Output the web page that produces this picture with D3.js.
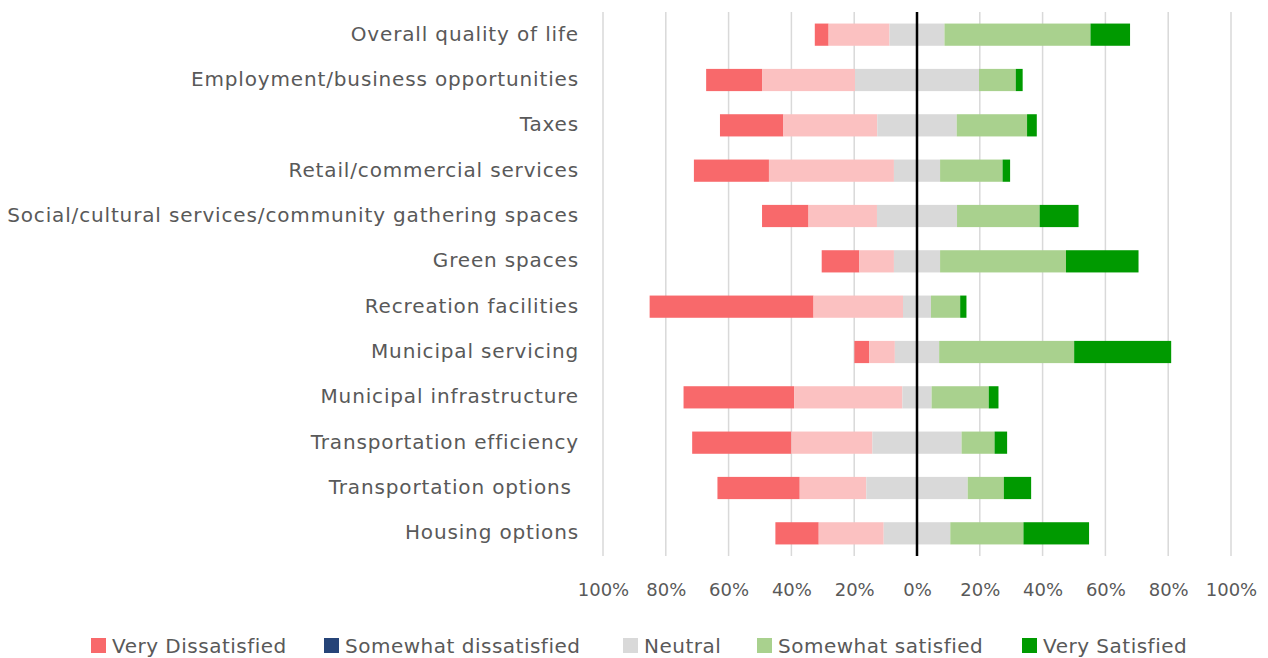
<!DOCTYPE html>
<html>
<head>
<meta charset="utf-8">
<script src="https://cdn.jsdelivr.net/npm/d3@7"></script>
<style>
  body { margin: 0; background: #fff; }
  text { font-family: "DejaVu Sans", sans-serif; fill: #595959; }
</style>
</head>
<body>
<div id="chart-area"></div>
<script>
// Survey categories (top to bottom)
const categories = [
  "Overall quality of life",
  "Employment/business opportunities",
  "Taxes",
  "Retail/commercial services",
  "Social/cultural services/community gathering spaces",
  "Green spaces",
  "Recreation facilities",
  "Municipal servicing",
  "Municipal infrastructure",
  "Transportation efficiency",
  "Transportation options ",
  "Housing options"
];

// Percent of responses per category
const veryDissatisfied     = [4.4, 17.8, 20.2, 23.9, 14.8, 12.0, 52.2, 4.7, 35.2, 31.6, 26.2, 13.8];
const somewhatDissatisfied = [19.4, 29.6, 29.9, 39.8, 21.8, 11.0, 28.5, 8.2, 34.5, 25.8, 21.2, 20.7];
const neutral              = [17.5, 39.5, 25.3, 14.7, 25.5, 14.7, 8.9, 14.1, 9.3, 28.4, 32.3, 21.2];
const somewhatSatisfied    = [46.5, 11.7, 22.4, 19.9, 26.3, 40.1, 9.3, 43.0, 18.2, 10.5, 11.5, 23.3];
const verySatisfied        = [12.6, 2.2, 3.1, 2.4, 12.4, 23.1, 2.0, 30.9, 3.1, 4.0, 8.7, 20.9];

const tickValues = [-100, -80, -60, -40, -20, 0, 20, 40, 60, 80, 100];

const seriesNames = ["Very Dissatisfied", "Somewhat dissatisfied", "Neutral", "Somewhat satisfied", "Very Satisfied"];
const barColors = ["#F8696B", "#FBC1C1", "#D9D9D9", "#A9D18E", "#009A00"];
const legendColors = ["#F8696B", "#264478", "#D9D9D9", "#A9D18E", "#009A00"];

const width = 1268, height = 658;
const svg = d3.select("#chart-area").append("svg")
    .attr("width", width)
    .attr("height", height);

const plot = {left: 603, right: 1231, top: 12, bottom: 556};

const x = d3.scaleLinear().domain([-100, 100]).range([plot.left, plot.right]);
const y = d3.scaleBand().domain(categories).range([plot.top, plot.bottom]).paddingInner(0.51).paddingOuter(0.255);

// Gridlines
svg.append("g").selectAll("line")
  .data(tickValues.filter(d => d !== 0))
  .enter().append("line")
    .attr("x1", d => x(d)).attr("x2", d => x(d))
    .attr("y1", plot.top).attr("y2", plot.bottom)
    .attr("stroke", "#D9D9D9")
    .attr("stroke-width", 1.5);

// Build segments: neutral split around zero
const rows = categories.map((c, i) => {
  const vals = [veryDissatisfied[i], somewhatDissatisfied[i], neutral[i], somewhatSatisfied[i], verySatisfied[i]];
  let start = -(vals[0] + vals[1] + vals[2] / 2);
  return vals.map((v, k) => {
    const seg = {cat: c, k: k, x0: start, x1: start + v};
    start += v;
    return seg;
  });
});

svg.append("g").selectAll("g")
  .data(rows)
  .enter().append("g")
  .selectAll("rect")
  .data(d => d)
  .enter().append("rect")
    .attr("x", d => x(d.x0))
    .attr("width", d => x(d.x1) - x(d.x0))
    .attr("y", d => y(d.cat))
    .attr("height", y.bandwidth())
    .attr("fill", d => barColors[d.k]);

// Zero line
svg.append("line")
  .attr("x1", x(0)).attr("x2", x(0))
  .attr("y1", plot.top).attr("y2", plot.bottom)
  .attr("stroke", "#000")
  .attr("stroke-width", 2.5);

// Category labels
svg.append("g").selectAll("text")
  .data(categories)
  .enter().append("text")
    .attr("x", 579)
    .attr("y", d => y(d) + y.bandwidth() / 2 - 1)
    .attr("dy", "0.35em")
    .attr("text-anchor", "end")
    .style("white-space", "pre")
    .style("letter-spacing", "0.85px")
    .attr("font-size", 20)
    .text(d => d);

// X axis tick labels
const xAxis = d3.axisBottom(x).tickValues(tickValues).tickSize(0).tickPadding(0)
  .tickFormat(d => Math.abs(d) + "%");
const ax = svg.append("g")
  .attr("transform", "translate(0," + 583 + ")")
  .call(xAxis);
ax.select(".domain").remove();
ax.selectAll("text").attr("font-size", 18).style("font-family", "'DejaVu Sans', sans-serif").attr("fill", "#595959");

// Legend
const legendX = [91, 324, 623, 757, 1022];
const legend = svg.append("g").selectAll("g")
  .data(seriesNames)
  .enter().append("g")
    .attr("transform", (d, i) => "translate(" + legendX[i] + ",638)");
legend.append("rect")
  .attr("width", 15).attr("height", 15)
  .attr("fill", (d, i) => legendColors[i]);
legend.append("text")
  .attr("x", 21).attr("y", 7.5).attr("dy", "0.35em")
  .attr("font-size", 20)
  .style("letter-spacing", "0.5px")
  .text(d => d);
</script>
</body>
</html>
